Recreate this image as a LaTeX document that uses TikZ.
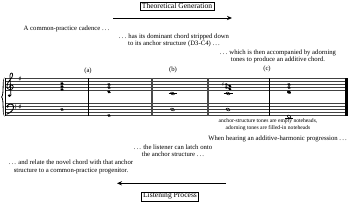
\documentclass[tikz,border=0pt]{standalone}
\usepackage{fontspec}
\setmainfont{Liberation Serif}
\newfontfamily\musfont{DejaVu Sans}
\usetikzlibrary{arrows.meta}
\begin{document}
\begin{tikzpicture}[x=1pt,y=-1pt,
  txt/.style={inner sep=0pt,align=center,font=\fontsize{6.7}{7.2}\selectfont},
  smalltxt/.style={inner sep=0pt,align=center,font=\fontsize{5.6}{7}\selectfont},
  boxlbl/.style={draw,line width=0.4pt,inner xsep=1.6pt,inner ysep=1.2pt,font=\fontsize{7.6}{8}\selectfont},
  flow/.style={line width=0.9pt,-{Stealth[length=5pt,width=4.2pt]}},
  staffline/.style={line width=0.35pt,black!75},
  barl/.style={line width=0.5pt},
  ledger/.style={line width=0.4pt},
  clefline/.style={line width=0.75pt,line cap=round}]
\useasboundingbox (0,0) rectangle (350,203);
% --- staves
\foreach \i in {0,...,4}{
  \draw[staffline] (5,78.5+3*\i) -- (347,78.5+3*\i);
  \draw[staffline] (5,103.5+3*\i) -- (347,103.5+3*\i);
}
% brace
\fill (4.6,77.5) .. controls (1.5,79) and (3.8,95) .. (1.2,97) .. controls (3.8,99) and (1.5,115) .. (4.6,116.5)
  .. controls (2.6,115) and (4.6,99) .. (2,97) .. controls (4.6,95) and (2.6,79) .. (4.6,77.5) -- cycle;
% barlines
\draw[barl] (5,78.5) -- (5,115.5);
\draw[barl] (88,78.5) -- (88,115.5);
\draw[barl,black!70] (150.9,78.5) -- (150.9,115.5);
\draw[barl,black!70] (152.7,78.5) -- (152.7,115.5);
\draw[barl,black!70] (206.9,78.5) -- (206.9,115.5);
\draw[barl,black!70] (208.7,78.5) -- (208.7,115.5);
\draw[barl] (269,78.5) -- (269,115.5);
\draw[barl] (344.8,78.5) -- (344.8,115.5);
\draw[line width=1.6pt] (347.2,78.5) -- (347.2,115.5);
% treble clef (drawn)
\draw[clefline] (10.9,95) .. controls (11.1,96.9) and (8.1,97.1) .. (8.2,95.3);
\fill (9.1,95.3) circle (1.15pt);
\draw[clefline] (10.9,95) -- (10,75.5) .. controls (9.8,72.8) and (12.9,71.8) .. (12.7,75.2)
  .. controls (12.5,78.6) and (6.9,81) .. (6.9,86.6) .. controls (6.9,90.6) and (13.3,90.6) .. (13.3,87)
  .. controls (13.3,84.4) and (9.3,84.2) .. (9.5,87.3);
% bass clef (drawn)
\fill (7.6,106.5) circle (1.35pt);
\draw[line width=0.9pt,line cap=round] (7.2,105.8) .. controls (8.6,103.4) and (13.6,103.3) .. (13.6,106.8)
  .. controls (13.6,110.2) and (10.6,112.6) .. (6.8,114.2);
\fill (15.6,105.1) circle (0.6pt);
\fill (15.6,107.9) circle (0.6pt);
% key signatures
\node[inner sep=0pt,font=\musfont\fontsize{7}{7}\selectfont] (tsharp) at (20,79) {♯};
\node[inner sep=0pt,font=\musfont\fontsize{7}{7}\selectfont] (bsharp) at (20,106.5) {♯};
% notes: measure 1
\foreach \y in {83.5,86.5,89.5}{\fill[rotate around={-20:(62,\y)}] (62,\y) ellipse [x radius=1.9pt,y radius=1.35pt];}
\fill[rotate around={-20:(62,109.5)}] (62,109.5) ellipse [x radius=1.9pt,y radius=1.35pt];
% measure 2
\foreach \y in {84.5,87.5,92}{\fill[rotate around={-20:(109,\y)}] (109,\y) ellipse [x radius=1.9pt,y radius=1.35pt];}
\fill[rotate around={-20:(109,115.5)}] (109,115.5) ellipse [x radius=1.9pt,y radius=1.35pt];
% measure 3 (b)
\draw[ledger] (168.5,93.5) -- (176.5,93.5);
\draw[line width=0.55pt,rotate around={-25:(172.5,93.5)}] (172.5,93.5) ellipse [x radius=2pt,y radius=1.2pt];
\draw[line width=0.55pt,rotate around={-25:(172.5,109.5)}] (172.5,109.5) ellipse [x radius=2pt,y radius=1.2pt];
% measure 4 (c)
\node[inner sep=0pt,font=\musfont\fontsize{5.5}{5.5}\selectfont] (csharp) at (223,84.5) {♯};
\fill[rotate around={-20:(226.4,84.5)}] (226.4,84.5) ellipse [x radius=1.8pt,y radius=1.3pt];
\fill[rotate around={-20:(229.8,86)}] (229.8,86) ellipse [x radius=1.8pt,y radius=1.3pt];
\fill[rotate around={-20:(226.4,87.5)}] (226.4,87.5) ellipse [x radius=1.8pt,y radius=1.3pt];
\fill[rotate around={-20:(229.8,89)}] (229.8,89) ellipse [x radius=1.8pt,y radius=1.3pt];
\draw[ledger] (223.5,93.5) -- (232.5,93.5);
\draw[line width=0.55pt,rotate around={-25:(228,93.5)}] (228,93.5) ellipse [x radius=2pt,y radius=1.2pt];
\draw[line width=0.55pt,rotate around={-25:(228,109.5)}] (228,109.5) ellipse [x radius=2pt,y radius=1.2pt];
% measure 5
\foreach \y in {84.5,87.5}{\fill[rotate around={-20:(289,\y)}] (289,\y) ellipse [x radius=1.9pt,y radius=1.35pt];}
\fill[rotate around={-20:(289,92.3)}] (289,92.3) ellipse [x radius=2.1pt,y radius=1.45pt];
\draw[ledger] (285,118.5) -- (293,118.5);
\draw[line width=0.55pt,rotate around={-25:(289,116.5)}] (289,116.5) ellipse [x radius=2pt,y radius=1.2pt];
% labels (a)(b)(c)
\node[txt] (la) at (88,71) {(a)};
\node[txt] (lb) at (173,70) {(b)};
\node[txt] (lc) at (267,69) {(c)};
% texts
\node[boxlbl] (tg) at (177,6.3) {Theoretical Generation};
\coordinate (tga) at (113,18);
\coordinate (tgb) at (232,18);
\draw[flow] (tga) -- (tgb);
\node[txt] (t1) at (66.5,28.6) {A common-practice cadence .\,.\,.};
\node[txt] (t2) at (174,40.6) {.\,.\,. has its dominant chord stripped down\\to its anchor structure (D3-C4) .\,.\,.};
\node[txt] (t3) at (278,56.4) {.\,.\,. which is then accompanied by adorning\\tones to produce an additive chord.};
\node[smalltxt] (t4) at (268,125) {anchor-structure tones are empty noteheads,\\adorning tones are filled-in noteheads};
\node[txt] (t5) at (277.5,139.2) {When hearing an additive-harmonic progression .\,.\,.};
\node[txt] (t6) at (173,150.6) {.\,.\,. the listener can latch onto\\the anchor structure .\,.\,.};
\node[txt] (t7) at (71,166.8) {.\,.\,. and relate the novel chord with that anchor\\structure to a common-practice progenitor.};
\coordinate (lpa) at (226,183.3);
\coordinate (lpb) at (117,183.3);
\draw[flow] (lpa) -- (lpb);
\node[boxlbl] (lp) at (170,196.3) {Listening Process};
\end{tikzpicture}
\end{document}
